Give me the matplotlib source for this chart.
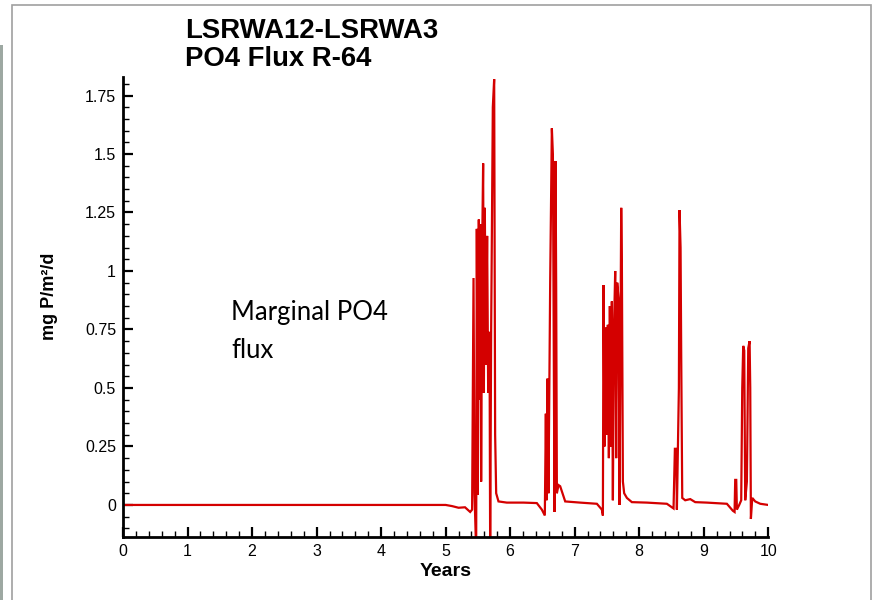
import matplotlib
matplotlib.use('Agg')
import matplotlib.pyplot as plt
from matplotlib.patches import Rectangle
from matplotlib.ticker import MultipleLocator, FixedLocator

plt.rcParams['font.family'] = ['Liberation Sans', 'DejaVu Sans']

# values (years, mg P/m2/d)
years = [0.0, 5.00, 5.10, 5.20, 5.30, 5.38, 5.41,
         5.432, 5.447, 5.473, 5.483, 5.499, 5.514, 5.530, 5.540, 5.550, 5.566,
         5.581, 5.592, 5.607, 5.623, 5.643, 5.659, 5.680, 5.690, 5.705, 5.731,
         5.752, 5.767, 5.783, 5.819, 5.948, 6.207, 6.413, 6.491,
         6.537, 6.553, 6.563, 6.579, 6.594, 6.620, 6.646, 6.662, 6.677, 6.687,
         6.703, 6.713, 6.724, 6.749, 6.775, 6.811, 6.853, 7.085, 7.344, 7.421,
         7.437, 7.447, 7.462, 7.483, 7.499, 7.514, 7.530, 7.545, 7.561, 7.576,
         7.592, 7.607, 7.628, 7.643, 7.659, 7.680, 7.695, 7.721, 7.731, 7.747,
         7.767, 7.809, 7.886, 8.119, 8.429,
         8.532, 8.553, 8.574, 8.584, 8.615, 8.625, 8.641, 8.651, 8.667, 8.713,
         8.791, 8.868, 9.049, 9.359,
         9.452, 9.478, 9.488, 9.504, 9.514, 9.550, 9.581, 9.597, 9.612, 9.628,
         9.643, 9.669, 9.690, 9.711, 9.721, 9.731, 9.752, 9.798, 9.876, 10.0]
flux = [0.0, 0.0, -0.005, -0.012, -0.010, -0.030, -0.020,
        0.97, 0.05, -0.20, 1.18, 0.043, 1.22, 0.45, 1.20, 0.10, 1.10,
        1.46, 0.48, 1.27, 0.60, 1.15, 0.48, 0.74, -0.20, 0.74, 1.70,
        1.82, 0.30, 0.05, 0.015, 0.010, 0.010, 0.008, -0.020,
        -0.045, 0.39, 0.02, 0.54, 0.05, 0.95, 1.61, 1.50, 0.60, -0.03,
        1.47, 0.93, 0.05, 0.085, 0.08, 0.05, 0.015, 0.010, 0.005, -0.020,
        -0.045, 0.94, 0.25, 0.76, 0.30, 0.77, 0.20, 0.85, 0.25, 0.87,
        0.02, 0.73, 1.00, 0.20, 0.95, 0.88, 0.0, 1.27, 1.05, 0.10,
        0.05, 0.03, 0.012, 0.010, 0.005,
        -0.015, 0.24, 0.24, -0.02, 0.50, 1.26, 1.10, 0.64, 0.03, 0.02,
        0.025, 0.012, 0.010, 0.005,
        -0.025, -0.03, 0.107, 0.107, -0.02, 0.0, 0.02, 0.50, 0.68, 0.66,
        0.02, 0.10, 0.67, 0.70, 0.50, -0.06, 0.03, 0.015, 0.005, 0.0]

x_ticks = [0, 1, 2, 3, 4, 5, 6, 7, 8, 9, 10]
y_ticks = [0, 0.25, 0.5, 0.75, 1, 1.25, 1.5, 1.75]
y_labels = ['0', '0.25', '0.5', '0.75', '1', '1.25', '1.5', '1.75']

fig = plt.figure(figsize=(8.79, 6.0), dpi=100)
ax = fig.add_axes([0.140, 0.105, 0.734, 0.767])

ax.plot(years, flux, color='#d40000', lw=1.6, solid_joinstyle='miter')

ax.set_xlim(0, 10)
ax.set_ylim(-0.137, 1.83)
ax.xaxis.set_major_locator(FixedLocator(x_ticks))
ax.xaxis.set_minor_locator(MultipleLocator(0.2))
ax.set_yticks(y_ticks)
ax.set_yticklabels(y_labels)
ax.yaxis.set_minor_locator(MultipleLocator(0.05))
ax.tick_params(which='major', direction='in', length=7, width=1.6, labelsize=11.5, pad=5)
ax.tick_params(which='minor', direction='in', length=4, width=1)
for s in ['top', 'right']:
    ax.spines[s].set_visible(False)
for s in ['left', 'bottom']:
    ax.spines[s].set_linewidth(2)

fig.text(446 / 879, 1 - 576 / 600, 'Years', ha='center', va='baseline',
         fontsize=14, fontweight='bold')
fig.text(50 / 879, 1 - 296 / 600, 'mg P/m²/d', rotation=90, ha='center', va='center',
         fontsize=13, fontweight='bold')

fig.text(0.211, 1 - 38 / 600, 'LSRWA12-LSRWA3', fontsize=19.8, fontweight='bold', va='baseline')
fig.text(0.211, 1 - 66 / 600, 'PO4 Flux R-64', fontsize=19.8, fontweight='bold', va='baseline')

fig.text(231 / 879, 1 - 320 / 600, 'Marginal PO4', fontsize=18.5, family='Lato', va='baseline')
fig.text(231 / 879, 1 - 358 / 600, 'flux', fontsize=18.5, family='Lato', va='baseline')

# screenshot frame
fig.patches.append(Rectangle((12 / 879, -0.01), 859 / 879, 1 - 5 / 600 + 0.01,
                             transform=fig.transFigure, fill=False,
                             edgecolor='#a0a0a0', lw=1.2))
fig.patches.append(Rectangle((0, 0), 3 / 879, 1 - 45 / 600, transform=fig.transFigure,
                             facecolor='#9da8a2', edgecolor='none'))

fig.savefig('out.png', dpi=100)
